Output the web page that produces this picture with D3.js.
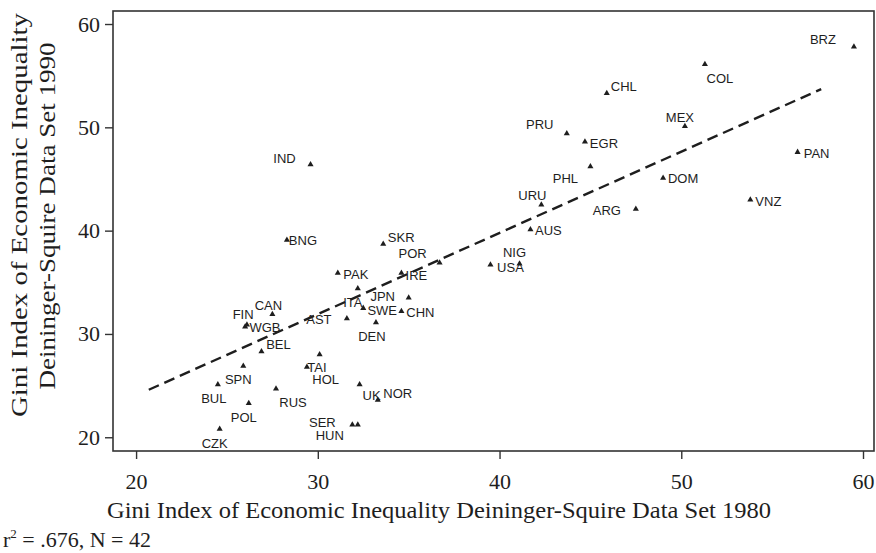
<!DOCTYPE html>
<html>
<head>
<meta charset="utf-8">
<script src="https://cdn.jsdelivr.net/npm/d3@7"></script>
<style>
  body { margin: 0; background: #fff; }
</style>
</head>
<body>
<div id="chart-area"></div>
<script>
// data
const countries = ["BRZ", "COL", "CHL", "MEX", "PRU", "EGR", "PAN", "PHL", "DOM", "URU",
  "ARG", "VNZ", "AUS", "NIG", "USA", "IND", "BNG", "SKR", "POR", "PAK",
  "IRE", "CAN", "ITA", "JPN", "FIN", "WGB", "SWE", "CHN", "AST", "BEL",
  "DEN", "SPN", "TAI", "HOL", "BUL", "RUS", "UK", "NOR", "POL", "SER",
  "HUN", "CZK"];
const gini1980 = [59.5, 51.3, 45.9, 50.2, 43.7, 44.7, 56.4, 45.0, 49.0, 42.3,
  47.5, 53.8, 41.7, 41.1, 39.5, 29.6, 28.3, 33.6, 36.7, 31.1,
  34.6, 27.5, 32.2, 35.0, 26.0, 26.1, 32.5, 34.6, 31.6, 26.9,
  33.2, 25.9, 29.4, 30.1, 24.5, 27.7, 32.3, 33.3, 26.2, 31.9,
  32.2, 24.6];
const gini1990 = [57.8, 56.1, 53.3, 50.1, 49.4, 48.6, 47.6, 46.2, 45.1, 42.5,
  42.1, 43.0, 40.1, 36.8, 36.7, 46.4, 39.1, 38.7, 36.9, 35.9,
  35.9, 31.9, 34.4, 33.5, 30.7, 30.9, 32.5, 32.2, 31.5, 28.3,
  31.1, 26.9, 26.8, 28.0, 25.1, 24.7, 25.1, 23.6, 23.3, 21.2,
  21.2, 20.8];

// fitted line end points
const fitX = [20.7, 57.7];
const fitY = [24.6, 53.7];

const xTicks = [20, 30, 40, 50, 60];
const yTicks = [20, 30, 40, 50, 60];

// where each marker label sits, relative to its marker (px)
const labelOffsets = [[-31, -7], [15, 14], [17, -7], [-5, -9], [-27, -9], [19, 2], [19, 1], [-25, 12], [20, 1], [-9, -9],
  [-29, 2], [18, 2], [18, 1], [-5, -11], [20, 3], [-26, -6], [16, 1], [18, -7], [-27, -9], [18, 2],
  [15, 3], [-4, -9], [-5, 14], [-26, -1], [-2, -12], [18, 3], [19, 2], [19, 1], [-28, 1], [17, -7],
  [-4, 14], [-5, 14], [10, 0], [6, 25], [-4, 14], [17, 14], [12, 11], [20, -7], [-5, 14], [-30, -2],
  [-28, 11], [-5, 15]];

const margin = { top: 11, right: 1, bottom: 102, left: 113 };
const width = 876 - margin.left - margin.right;
const height = 553 - margin.top - margin.bottom;

const serif = "'Liberation Serif', 'DejaVu Serif', serif";
const sans = "'Liberation Sans', Arial, sans-serif";
const ink = "#1e1e1e";

const svg = d3.select("#chart-area")
  .append("svg")
  .attr("width", 876)
  .attr("height", 553);

const g = svg.append("g")
  .attr("transform", `translate(${margin.left}, ${margin.top})`);

const x = d3.scaleLinear()
  .domain([18.73, 60.66])
  .range([0, width]);

const y = d3.scaleLinear()
  .domain([18.67, 61.26])
  .range([height, 0]);

// axes
const xAxisGroup = g.append("g")
  .attr("transform", `translate(0, ${height})`)
  .call(d3.axisBottom(x).tickValues(xTicks).tickSize(8).tickFormat(d3.format("d")));

const yAxisGroup = g.append("g")
  .call(d3.axisLeft(y).tickValues(yTicks).tickSize(8).tickPadding(5).tickFormat(d3.format("d")));

[xAxisGroup, yAxisGroup].forEach(ax => {
  ax.select(".domain").remove();
  ax.attr("font-family", serif).attr("font-size", 22);
  ax.selectAll("line").attr("stroke", "#333").attr("stroke-width", 1.4);
  ax.selectAll("text").attr("fill", ink);
});

xAxisGroup.selectAll("text")
  .attr("y", 38)
  .attr("dy", null);

// frame
g.append("rect")
  .attr("x", 0)
  .attr("y", 0)
  .attr("width", width - 1)
  .attr("height", height)
  .attr("fill", "none")
  .attr("stroke", "#333")
  .attr("stroke-width", 1.6);

// regression line
const line = d3.line()
  .x(d => x(d[0]))
  .y(d => y(d[1]));

g.append("path")
  .datum(fitX.map((v, i) => [v, fitY[i]]))
  .attr("d", line)
  .attr("fill", "none")
  .attr("stroke", ink)
  .attr("stroke-width", 2.4)
  .attr("stroke-dasharray", "11,6");

// points
const points = countries.map((c, i) => ({
  country: c,
  x80: gini1980[i],
  y90: gini1990[i],
  off: labelOffsets[i]
}));

g.selectAll("path.marker")
  .data(points)
  .enter()
  .append("path")
  .attr("class", "marker")
  .attr("d", d3.symbol().type(d3.symbolTriangle).size(16))
  .attr("transform", d => `translate(${x(d.x80)}, ${y(d.y90)})`)
  .attr("fill", ink);

g.selectAll("text.lbl")
  .data(points)
  .enter()
  .append("text")
  .attr("class", "lbl")
  .attr("x", d => x(d.x80) + d.off[0])
  .attr("y", d => y(d.y90) + d.off[1])
  .attr("text-anchor", "middle")
  .attr("dominant-baseline", "central")
  .attr("font-family", sans)
  .attr("font-size", 13)
  .attr("fill", ink)
  .text(d => d.country);

// axis titles
svg.append("text")
  .attr("x", 439)
  .attr("y", 518)
  .attr("text-anchor", "middle")
  .attr("font-family", serif)
  .attr("font-size", 24)
  .attr("fill", ink)
  .attr("textLength", 664)
  .attr("lengthAdjust", "spacingAndGlyphs")
  .text("Gini Index of Economic Inequality Deininger-Squire Data Set 1980");

svg.append("text")
  .attr("transform", "translate(27, 215) rotate(-90)")
  .attr("text-anchor", "middle")
  .attr("font-family", serif)
  .attr("font-size", 24)
  .attr("fill", ink)
  .attr("textLength", 404)
  .attr("lengthAdjust", "spacingAndGlyphs")
  .text("Gini Index of Economic Inequality");

svg.append("text")
  .attr("transform", "translate(55, 216) rotate(-90)")
  .attr("text-anchor", "middle")
  .attr("font-family", serif)
  .attr("font-size", 24)
  .attr("fill", ink)
  .attr("textLength", 347)
  .attr("lengthAdjust", "spacingAndGlyphs")
  .text("Deininger-Squire Data Set 1990");

// fit note
const note = svg.append("text")
  .attr("x", 3)
  .attr("y", 547)
  .attr("font-family", serif)
  .attr("font-size", 22)
  .attr("fill", ink);

note.append("tspan").text("r");
note.append("tspan")
  .attr("font-size", 13)
  .attr("dy", -9)
  .text("2");
note.append("tspan")
  .attr("dy", 9)
  .text(" = .676, N = 42");
</script>
</body>
</html>
